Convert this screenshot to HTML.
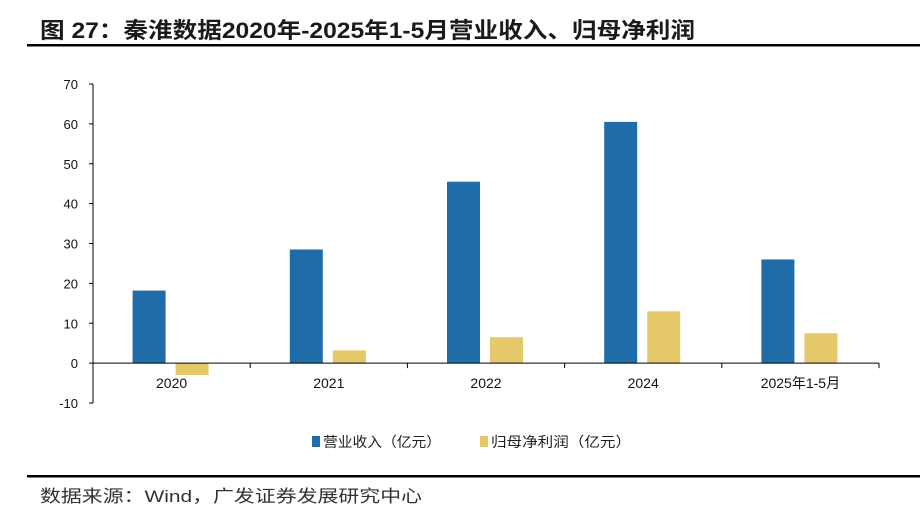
<!DOCTYPE html>
<html><head><meta charset="utf-8"><style>
body{margin:0;width:920px;height:521px;background:#fff;overflow:hidden;font-family:"Liberation Sans","Noto Sans CJK SC",sans-serif}
</style></head><body>
<svg width="920" height="521" xmlns="http://www.w3.org/2000/svg" font-family="Liberation Sans, Noto Sans CJK SC, sans-serif">
<text x="40" y="38" font-size="22" font-weight="bold" fill="#1a1a1a" textLength="655" lengthAdjust="spacingAndGlyphs">图 27：秦淮数据2020年-2025年1-5月营业收入、归母净利润</text>
<rect x="27" y="44" width="893" height="2.5" fill="#000"/>
<g id="chart"></g>
<g>
<rect x="312" y="436" width="8" height="11" fill="#1f6ca8"/>
<text x="323" y="447" font-size="14" fill="#222" textLength="118" lengthAdjust="spacingAndGlyphs">营业收入（亿元）</text>
<rect x="480" y="436" width="8" height="11" fill="#e5c86a"/>
<text x="491" y="447" font-size="14" fill="#222" textLength="140" lengthAdjust="spacingAndGlyphs">归母净利润（亿元）</text>
</g>
<rect x="27" y="475" width="893" height="2.5" fill="#000"/>
<text x="40" y="502" font-size="17" fill="#333" textLength="382" lengthAdjust="spacingAndGlyphs">数据来源：Wind，广发证券发展研究中心</text>
</svg>
<script>
const categories=["2020","2021","2022","2024","2025年1-5月"];
const revenue=[18.2,28.5,45.5,60.5,26.0];
const profit=[-3.0,3.2,6.5,13.0,7.5];
const yTicks=[70,60,50,40,30,20,10,0,-10];
const NS="http://www.w3.org/2000/svg";
const g=document.getElementById("chart");
const x0=93,x1=879,yTop=84,yBot=403,vMax=70,vMin=-10;
const bw=(x1-x0)/categories.length;
function y(v){return yTop+(vMax-v)/(vMax-vMin)*(yBot-yTop);}
function xc(i){return x0+bw*(i+0.5);}
function mk(tag,attrs){const e=document.createElementNS(NS,tag);for(const k in attrs)e.setAttribute(k,attrs[k]);g.appendChild(e);return e;}
yTicks.forEach(v=>{
 const t=mk("text",{x:78,y:y(v)+5,"text-anchor":"end","font-size":13,fill:"#111"});t.textContent=v;
 
 
 const l=mk("line",{x1:89,x2:93,y1:y(v),y2:y(v),stroke:"#000"});
 
 
});
categories.forEach((c,i)=>{
 const b=mk("rect",{x:xc(i)-39,width:33,y:Math.min(y(revenue[i]),y(0)),height:Math.abs(y(revenue[i])-y(0)),fill:"#1f6ca8"});
 
 
 const p=mk("rect",{x:xc(i)+4,width:33,y:Math.min(y(profit[i]),y(0)),height:Math.abs(y(profit[i])-y(0)),fill:"#e5c86a"});
 
 
 const t=mk("text",{x:xc(i),y:388,"text-anchor":"middle","font-size":14,fill:"#111"});t.textContent=c;
 
 
});
for(let i=1;i<=categories.length;i++){
 const l=mk("line",{x1:x0+bw*i,x2:x0+bw*i,y1:y(0),y2:y(0)+5,stroke:"#000"});
 
 
}
const ya=mk("line",{x1:x0,x2:x0,y1:yTop,y2:yBot,stroke:"#000"});


const xa=mk("line",{x1:x0,x2:x1,y1:y(0),y2:y(0),stroke:"#000"});


</script>
</body></html>
